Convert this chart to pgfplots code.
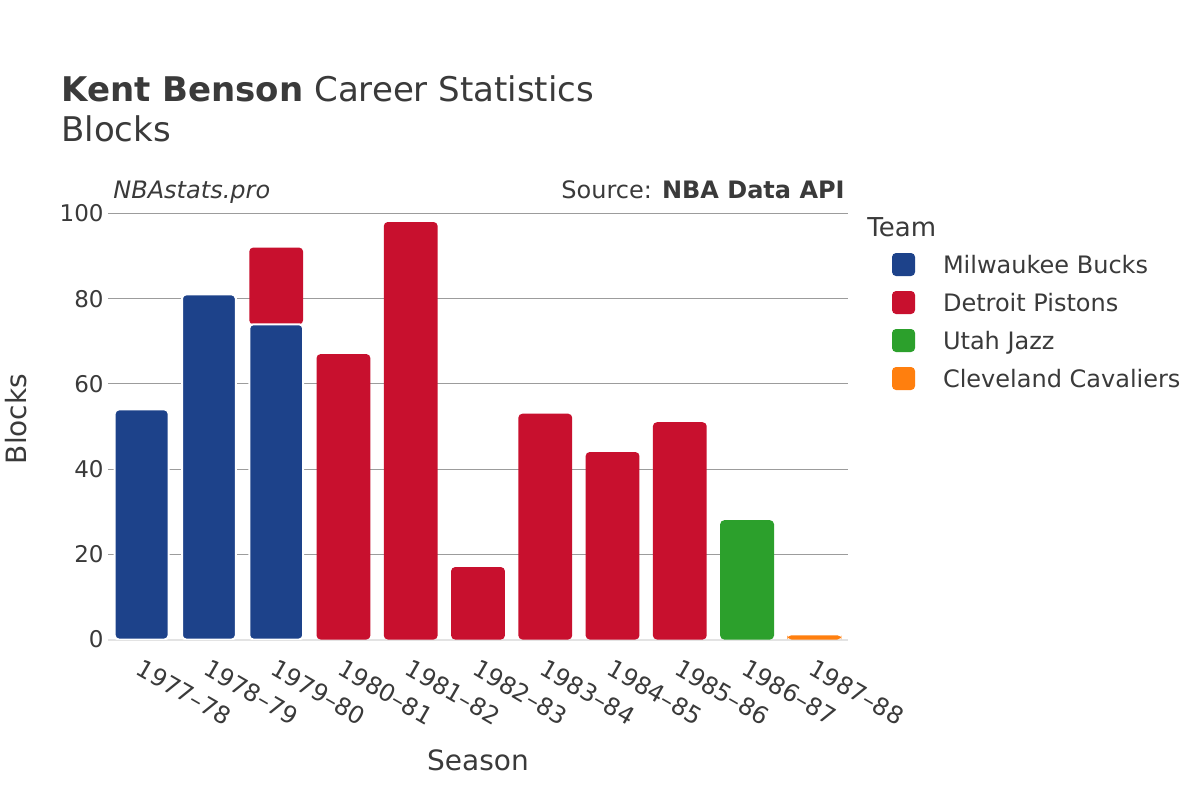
\documentclass[border=0pt]{standalone}
\usepackage{fontspec}
\setmainfont{DejaVu Sans}
\usepackage{pgfplots}
\pgfplotsset{compat=1.18}
\definecolor{mil}{HTML}{1D428A}
\definecolor{det}{HTML}{C8102E}
\definecolor{uta}{HTML}{2CA02C}
\definecolor{cle}{HTML}{FF7F0E}
\definecolor{textc}{HTML}{3A3A3A}
\definecolor{gridc}{HTML}{9C9C9C}
\definecolor{zeroc}{HTML}{E3E3E3}
\tikzset{myleg/.style={/pgfplots/legend image code/.code={\fill[##1, draw=none, rounded corners=2pt] (0pt,-5.75pt) rectangle (11.5pt,5.75pt);}}}
\begin{document}
\begin{tikzpicture}
\fill[white] (0pt,0pt) rectangle (600pt,-400pt);
\begin{axis}[
  at={(54pt,-319.75pt)}, anchor=south west,
  scale only axis, width=370pt, height=219.4pt,
  xmin=-0.5, xmax=10.5, ymin=0, ymax=103,
  ybar stacked, bar width=0.8,
  axis line style={draw=none},
  major tick length=0pt,
  /pgf/number format/assume math mode=true,
  ytick={20,40,60,80,100},
  extra y ticks={0},
  extra y tick style={ymajorgrids=true, major grid style={draw=zeroc, line width=1pt}},
  ymajorgrids, major grid style={draw=gridc, line width=0.5pt},
  xtick={0,1,2,3,4,5,6,7,8,9,10},
  xticklabels={1977–78,1978–79,1979–80,1980–81,1981–82,1982–83,1983–84,1984–85,1985–86,1986–87,1987–88},
  xticklabel style={rotate=-30, anchor=north west, inner sep=0pt, xshift=5.5pt, yshift=-7.5pt, font=\fontsize{12}{14}\selectfont},
  yticklabel style={anchor=east, inner sep=0pt, xshift=-2pt, font=\fontsize{11.5}{13}\selectfont},
  tick label style={text=textc},
  legend cell align=left,
  legend style={at={(1.0595,0.8808)}, anchor=north west, draw=none, fill=none,
    inner sep=0pt, outer sep=0pt, font=\fontsize{12}{14}\selectfont, text=textc,
    row sep=7.5pt,
    /tikz/every odd column/.append style={column sep=14pt},
    nodes={inner sep=0pt, text height=8.75pt, text depth=0pt}},
]
\addplot[fill=mil, draw=white, line width=1pt, rounded corners=2pt, myleg] coordinates {(0,54) (1,81) (2,74) (3,0) (4,0) (5,0) (6,0) (7,0) (8,0) (9,0) (10,0)};
\addlegendentry{Milwaukee Bucks}
\addplot[fill=det, draw=none, rounded corners=2pt, myleg] coordinates {(0,0) (1,0) (2,18) (3,67) (4,98) (5,17) (6,53) (7,44) (8,51) (9,0) (10,0)};
\addlegendentry{Detroit Pistons}
\addplot[fill=uta, draw=none, rounded corners=2pt, myleg] coordinates {(0,0) (1,0) (2,0) (3,0) (4,0) (5,0) (6,0) (7,0) (8,0) (9,28) (10,0)};
\addlegendentry{Utah Jazz}
\addplot[fill=cle, draw=none, rounded corners=2pt, myleg] coordinates {(0,0) (1,0) (2,0) (3,0) (4,0) (5,0) (6,0) (7,0) (8,0) (9,0) (10,1)};
\addlegendentry{Cleveland Cavaliers}
\end{axis}
\node[anchor=base west, inner sep=0pt, font=\fontsize{17}{20}\selectfont, text=textc] at (30.5pt,-50.5pt) {\textbf{Kent Benson} Career Statistics};
\node[anchor=base west, inner sep=0pt, font=\fontsize{17}{20}\selectfont, text=textc] at (30.5pt,-70.5pt) {Blocks};
\node[anchor=base west, inner sep=0pt, font=\fontsize{12}{14}\selectfont\itshape, text=textc] at (56.5pt,-99pt) {NBAstats.pro};
\node[anchor=base east, inner sep=0pt, font=\fontsize{12}{14}\selectfont, text=textc] at (422.5pt,-99pt) {Source: \textbf{NBA Data API}};
\node[rotate=90, inner sep=0pt, font=\fontsize{14}{16}\selectfont, text=textc] at (8pt,-209.5pt) {Blocks};
\node[anchor=base, inner sep=0pt, font=\fontsize{14}{16}\selectfont, text=textc] at (239pt,-385pt) {Season};
\node[anchor=base west, inner sep=0pt, font=\fontsize{13}{15}\selectfont, text=textc] at (433.5pt,-118pt) {Team};
\end{tikzpicture}
\end{document}
